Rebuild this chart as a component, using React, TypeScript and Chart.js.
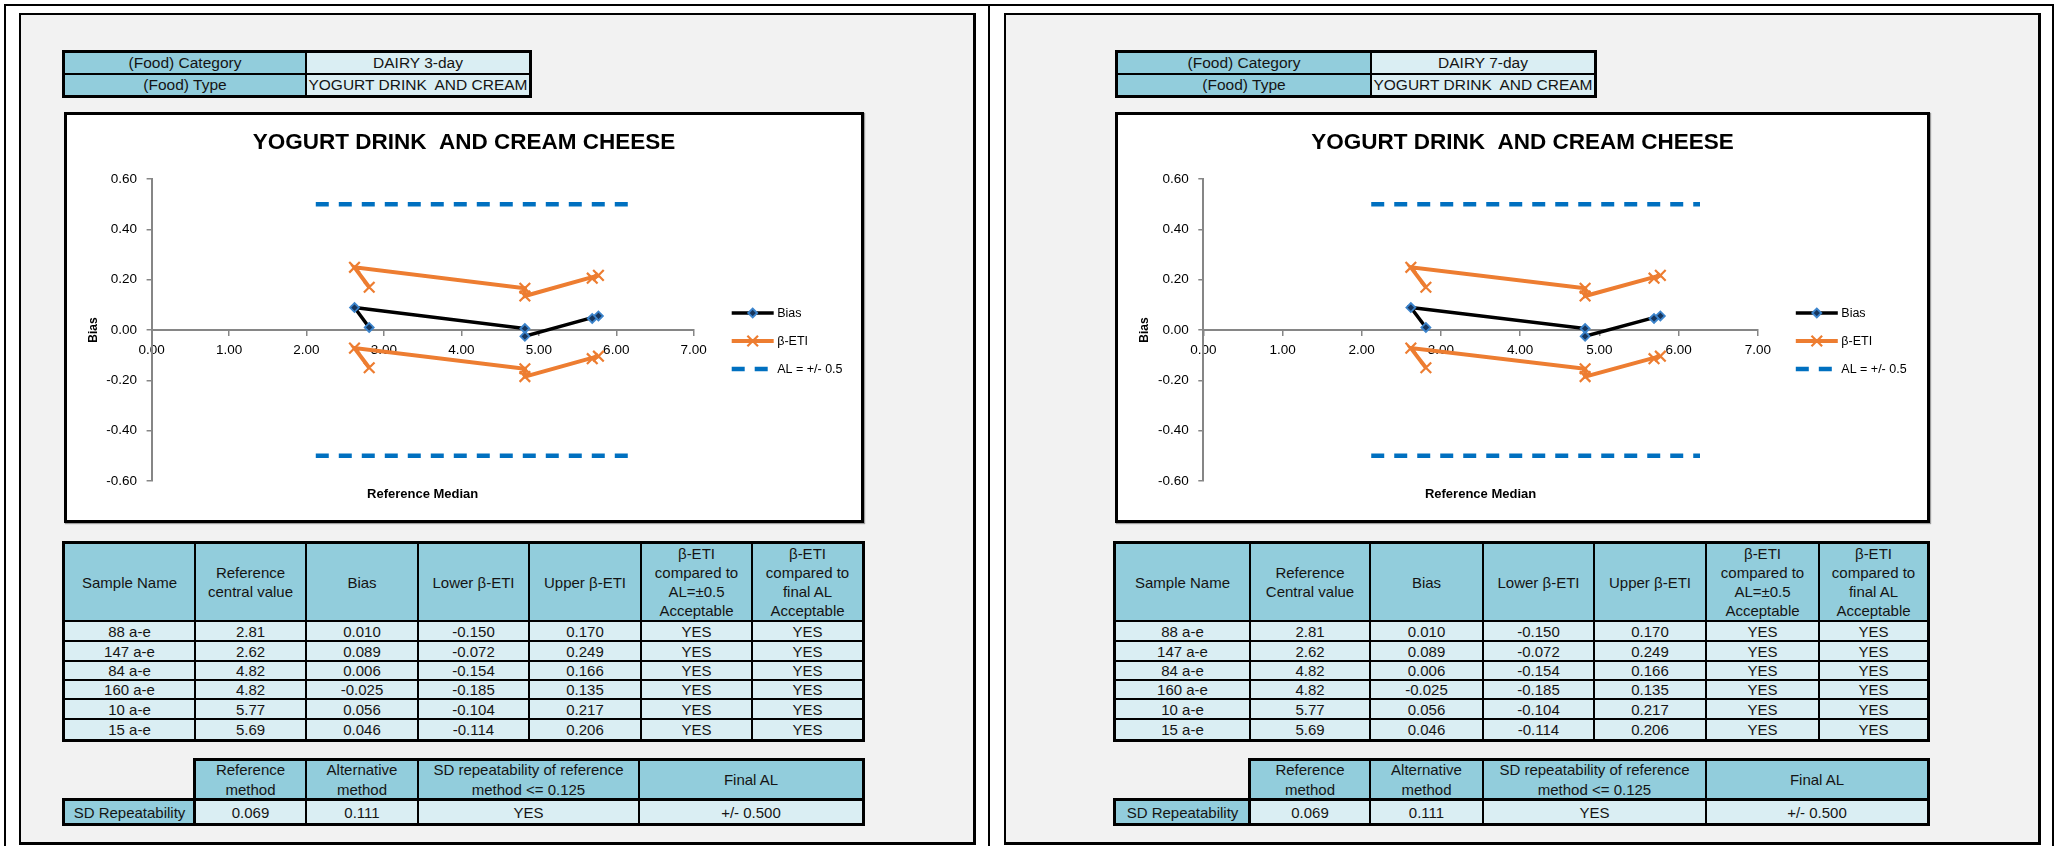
import React, { useEffect, useRef } from 'react';
import { Chart, registerables } from 'chart.js';

Chart.register(...registerables);

const FONT = '"Liberation Sans", Arial, Helvetica, sans-serif';
Chart.defaults.font.family = FONT;
Chart.defaults.color = '#000';

// ---------------- data ----------------
const sampleNames = ['88 a-e', '147 a-e', '84 a-e', '160 a-e', '10 a-e', '15 a-e'];
const referenceCentral = [2.81, 2.62, 4.82, 4.82, 5.77, 5.69];
const biasValues = [0.01, 0.089, 0.006, -0.025, 0.056, 0.046];
const lowerEti = [-0.15, -0.072, -0.154, -0.185, -0.104, -0.114];
const upperEti = [0.17, 0.249, 0.166, 0.135, 0.217, 0.206];
const acceptableAL05 = ['YES', 'YES', 'YES', 'YES', 'YES', 'YES'];
const acceptableFinalAL = ['YES', 'YES', 'YES', 'YES', 'YES', 'YES'];
const alRangeX = [2.12, 6.27];
const alUpperY = [0.5, 0.5];
const alLowerY = [-0.5, -0.5];
const xAxisRange = [0, 7];
const xAxisStep = 1;
const yAxisRange = [-0.6, 0.6];
const yAxisStep = 0.2;
const repeatabilityHeaders = ['Reference\nmethod', 'Alternative\nmethod', 'SD repeatability of reference\nmethod <= 0.125', 'Final AL'];
const repeatabilityValues = ['0.069', '0.111', 'YES', '+/- 0.500'];
const panelCategories = ['DAIRY 3-day', 'DAIRY 7-day'];
const panelTypes = ['YOGURT DRINK  AND CREAM', 'YOGURT DRINK  AND CREAM'];
const referenceHeaders = ['Reference\ncentral value', 'Reference\nCentral value'];
const chartTitle = 'YOGURT DRINK  AND CREAM CHEESE';
const legendLabels = ['Bias', 'β-ETI', 'AL = +/- 0.5'];

// ---------------- layout ----------------
const HEAD_BG = '#92CDDC';
const CELL_BG = '#DAEEF3';
const PANEL_BG = '#F2F2F2';

const LAYOUTS = [
  {
    frame: [19, 13, 976, 845],
    info: [64, 306, 530],
    chartBox: [64, 112, 864, 523],
    chart: { padSide: 19.8, yAxisWidth: 64.8, rightSpace: 147.5 },
    table: [64, 194.5, 306, 417.5, 529, 640.5, 752, 863],
    rep: [64, 194.5, 306, 417.5, 639, 863],
  },
  {
    frame: [1004, 13, 2041, 845],
    info: [1117, 1370.5, 1594.5],
    chartBox: [1115, 112, 1930, 523],
    chart: { padSide: 19.3, yAxisWidth: 66, rightSpace: 149.9 },
    table: [1115, 1250.3, 1369.8, 1482.8, 1593.9, 1706.2, 1818.6, 1928.3],
    rep: [1115, 1250.3, 1369.8, 1482.8, 1706.2, 1928.3],
  },
];
const infoYs = [52, 74, 96];
const tableYs = [543, 621, 641, 661, 680, 699, 719, 740];
const repYs = [760, 800, 824];

const pts = (xs: number[], ys: number[]) => xs.map((x, i) => ({ x, y: ys[i] }));

function drawMarker(ctx: CanvasRenderingContext2D, style: string, x: number, y: number, r: number, fill: string, stroke: string, lw: number) {
  ctx.save();
  ctx.setLineDash([]);
  ctx.lineWidth = lw;
  ctx.strokeStyle = stroke;
  ctx.fillStyle = fill;
  ctx.beginPath();
  if (style === 'rectRot') {
    ctx.moveTo(x - r, y);
    ctx.lineTo(x, y - r);
    ctx.lineTo(x + r, y);
    ctx.lineTo(x, y + r);
    ctx.closePath();
    ctx.fill();
    ctx.stroke();
  } else if (style === 'crossRot') {
    const d = r * Math.SQRT1_2;
    ctx.moveTo(x - d, y - d);
    ctx.lineTo(x + d, y + d);
    ctx.moveTo(x - d, y + d);
    ctx.lineTo(x + d, y - d);
    ctx.stroke();
  }
  ctx.restore();
}

const decorPlugin = {
  id: 'excelDecor',
  afterDraw(chart: any, _args: any, opts: any) {
    const { ctx, chartArea } = chart;
    ctx.save();
    ctx.fillStyle = '#000';
    ctx.textAlign = 'center';
    ctx.textBaseline = 'middle';
    ctx.font = `bold 13px ${FONT}`;
    ctx.fillText(opts.xTitle, (chartArea.left + chartArea.right) / 2, chartArea.bottom + 13);
    ctx.font = `12.5px ${FONT}`;
    ctx.textAlign = 'left';
    opts.items.forEach((it: any, i: number) => {
      const ds = chart.data.datasets[it.dataset];
      const y = chartArea.top + 134 + i * 28;
      const x0 = chartArea.right + 38;
      const x1 = x0 + 42;
      ctx.save();
      ctx.beginPath();
      ctx.setLineDash(ds.borderDash || []);
      ctx.lineWidth = ds.borderWidth;
      ctx.strokeStyle = ds.borderColor;
      ctx.lineCap = 'butt';
      ctx.moveTo(x0, y);
      ctx.lineTo(x1, y);
      ctx.stroke();
      ctx.restore();
      if (ds.pointRadius > 0) {
        drawMarker(ctx, ds.pointStyle, (x0 + x1) / 2, y, ds.pointRadius, ds.pointBackgroundColor, ds.pointBorderColor, ds.pointBorderWidth);
      }
      ctx.fillStyle = '#000';
      ctx.fillText(it.label, x1 + 3.5, y + 1);
    });
    ctx.restore();
  },
};

function BiasChart({ width, height, padSide, yAxisWidth, rightSpace }: any) {
  const ref = useRef<HTMLCanvasElement>(null);
  useEffect(() => {
    const canvas = ref.current;
    if (!canvas) return;
    const axisColor = '#868686';
    const chart = new Chart(canvas, {
      type: 'scatter',
      data: {
        datasets: [
          {
            label: legendLabels[0],
            data: pts(referenceCentral, biasValues),
            showLine: true,
            borderColor: '#000000',
            borderWidth: 3.5,
            pointStyle: 'rectRot',
            pointRadius: 4.5,
            pointBackgroundColor: '#17365D',
            pointBorderColor: '#3C84CC',
            pointBorderWidth: 1.8,
            tension: 0,
          },
          {
            label: legendLabels[1],
            data: pts(referenceCentral, upperEti),
            showLine: true,
            borderColor: '#ED7D31',
            borderWidth: 4,
            pointStyle: 'crossRot',
            pointRadius: 7.5,
            pointBackgroundColor: '#ED7D31',
            pointBorderColor: '#ED7D31',
            pointBorderWidth: 2.2,
            tension: 0,
          },
          {
            label: legendLabels[1] + ' lower',
            data: pts(referenceCentral, lowerEti),
            showLine: true,
            borderColor: '#ED7D31',
            borderWidth: 4,
            pointStyle: 'crossRot',
            pointRadius: 7.5,
            pointBackgroundColor: '#ED7D31',
            pointBorderColor: '#ED7D31',
            pointBorderWidth: 2.2,
            tension: 0,
          },
          {
            label: legendLabels[2],
            data: pts(alRangeX, alUpperY),
            showLine: true,
            borderColor: '#0070C0',
            borderWidth: 4.5,
            borderDash: [13, 10],
            pointRadius: 0,
            tension: 0,
          },
          {
            label: legendLabels[2] + ' lower',
            data: pts(alRangeX, alLowerY),
            showLine: true,
            borderColor: '#0070C0',
            borderWidth: 4.5,
            borderDash: [13, 10],
            pointRadius: 0,
            tension: 0,
          },
        ],
      },
      options: {
        animation: false,
        responsive: false,
        maintainAspectRatio: false,
        events: [],
        layout: { padding: { left: padSide, right: padSide, top: 0, bottom: 39 } },
        plugins: {
          legend: { display: false },
          tooltip: { enabled: false },
          title: {
            display: true,
            text: chartTitle,
            color: '#000',
            font: { size: 22.5, weight: 'bold', family: FONT },
            padding: { top: 14.5, bottom: 22.5 },
          },
          excelDecor: {
            xTitle: 'Reference Median',
            items: [
              { dataset: 0, label: legendLabels[0] },
              { dataset: 1, label: legendLabels[1] },
              { dataset: 3, label: legendLabels[2] },
            ],
          },
        } as any,
        scales: {
          x: {
            type: 'linear',
            min: xAxisRange[0],
            max: xAxisRange[1],
            position: { y: 0 } as any,
            afterFit: (s: any) => { s.height = 0; },
            grid: { drawOnChartArea: false, drawTicks: true, tickLength: 5, color: axisColor, lineWidth: 1.5 },
            border: { color: axisColor, width: 2 },
            ticks: {
              stepSize: xAxisStep,
              padding: 7,
              maxRotation: 0,
              autoSkip: false,
              color: '#000',
              font: { size: 13.5 },
              callback: (v: any) => Number(v).toFixed(2),
            },
          },
          y: {
            type: 'linear',
            min: yAxisRange[0],
            max: yAxisRange[1],
            position: 'left',
            afterFit: (s: any) => { s.width = yAxisWidth; },
            title: { display: true, text: 'Bias', color: '#000', font: { size: 12, weight: 'bold' }, padding: 0 },
            grid: { drawOnChartArea: false, drawTicks: true, tickLength: 5, color: axisColor, lineWidth: 1.5 },
            border: { color: axisColor, width: 2 },
            ticks: {
              stepSize: yAxisStep,
              padding: 9.6,
              color: '#000',
              font: { size: 13.5 },
              callback: (v: any) => {
                const n = Math.abs(Number(v)) < 1e-9 ? 0 : Number(v);
                return n.toFixed(2);
              },
            },
          },
          legendSpace: {
            type: 'linear',
            axis: 'y',
            position: 'right',
            display: true,
            afterFit: (s: any) => { s.width = rightSpace; },
            grid: { display: false },
            border: { display: false },
            ticks: { display: false },
          },
        } as any,
      },
      plugins: [decorPlugin as any],
    } as any);
    return () => chart.destroy();
  }, []);
  return <canvas ref={ref} width={width} height={height} style={{ display: 'block', width, height }} />;
}

function Cell({ x0, x1, y0, y1, bg, text, size = 15, lh = 19 }: any) {
  const L = Math.round(x0) - 1;
  const R = Math.round(x1) + 1;
  const T = Math.round(y0) - 1;
  const B = Math.round(y1) + 1;
  return (
    <div
      style={{
        position: 'absolute', left: L, top: T, width: R - L, height: B - T,
        boxSizing: 'border-box', border: '2px solid #000', background: bg,
        display: 'flex', alignItems: 'center', justifyContent: 'center', textAlign: 'center',
        whiteSpace: 'pre', fontSize: size, lineHeight: lh + 'px', color: '#141414',
        overflow: 'hidden', fontFamily: FONT,
      }}
    >
      {text}
    </div>
  );
}

function Frame({ x0, x1, y0, y1 }: any) {
  const L = Math.round(x0) - 2;
  const T = Math.round(y0) - 2;
  return (
    <div
      style={{
        position: 'absolute', left: L, top: T, width: Math.round(x1) + 2 - L, height: Math.round(y1) + 2 - T,
        boxSizing: 'border-box', border: '3px solid #000', pointerEvents: 'none',
      }}
    />
  );
}

function Panel({ idx }: { idx: number }) {
  const lay = LAYOUTS[idx];
  const [fx0, fy0, fx1, fy1] = lay.frame;
  const [bx0, by0, bx1, by1] = lay.chartBox;
  const tx = lay.table;
  const rx = lay.rep;
  const ix = lay.info;
  const tableHeaders = ['Sample Name', referenceHeaders[idx], 'Bias', 'Lower β-ETI', 'Upper β-ETI',
    'β-ETI\ncompared to\nAL=±0.5\nAcceptable', 'β-ETI\ncompared to\nfinal AL\nAcceptable'];
  const rows = sampleNames.map((n, i) => [
    n, referenceCentral[i].toFixed(2), biasValues[i].toFixed(3), lowerEti[i].toFixed(3),
    upperEti[i].toFixed(3), acceptableAL05[i], acceptableFinalAL[i],
  ]);
  const cells: any[] = [];
  // info table
  cells.push(<Cell key="i00" x0={ix[0]} x1={ix[1]} y0={infoYs[0]} y1={infoYs[1]} bg={HEAD_BG} text="(Food) Category" size={15.5} lh={18} />);
  cells.push(<Cell key="i01" x0={ix[1]} x1={ix[2]} y0={infoYs[0]} y1={infoYs[1]} bg={CELL_BG} text={panelCategories[idx]} size={15.5} lh={18} />);
  cells.push(<Cell key="i10" x0={ix[0]} x1={ix[1]} y0={infoYs[1]} y1={infoYs[2]} bg={HEAD_BG} text="(Food) Type" size={15.5} lh={18} />);
  cells.push(<Cell key="i11" x0={ix[1]} x1={ix[2]} y0={infoYs[1]} y1={infoYs[2]} bg={CELL_BG} text={panelTypes[idx]} size={15.5} lh={18} />);
  cells.push(<Frame key="if" x0={ix[0]} x1={ix[2]} y0={infoYs[0]} y1={infoYs[2]} />);
  // main table
  tableHeaders.forEach((h, c) => {
    cells.push(<Cell key={'h' + c} x0={tx[c]} x1={tx[c + 1]} y0={tableYs[0]} y1={tableYs[1]} bg={HEAD_BG} text={h} />);
  });
  rows.forEach((r, ri) => {
    r.forEach((v, c) => {
      cells.push(<Cell key={'r' + ri + '_' + c} x0={tx[c]} x1={tx[c + 1]} y0={tableYs[ri + 1]} y1={tableYs[ri + 2]} bg={CELL_BG} text={v} />);
    });
  });
  cells.push(<Frame key="tf" x0={tx[0]} x1={tx[7]} y0={tableYs[0]} y1={tableYs[7]} />);
  // repeatability table
  repeatabilityHeaders.forEach((h, c) => {
    cells.push(<Cell key={'rh' + c} x0={rx[c + 1]} x1={rx[c + 2]} y0={repYs[0]} y1={repYs[1]} bg={HEAD_BG} text={h} lh={20} />);
  });
  cells.push(<Cell key="rsd" x0={rx[0]} x1={rx[1]} y0={repYs[1]} y1={repYs[2]} bg={HEAD_BG} text="SD Repeatability" />);
  repeatabilityValues.forEach((v, c) => {
    cells.push(<Cell key={'rv' + c} x0={rx[c + 1]} x1={rx[c + 2]} y0={repYs[1]} y1={repYs[2]} bg={CELL_BG} text={v} />);
  });
  cells.push(<Frame key="rf1" x0={rx[1]} x1={rx[5]} y0={repYs[0]} y1={repYs[2]} />);
  cells.push(<Frame key="rf2" x0={rx[0]} x1={rx[5]} y0={repYs[1]} y1={repYs[2]} />);

  const boxW = bx1 - bx0;
  const boxH = by1 - by0;
  return (
    <>
      <div
        style={{
          position: 'absolute', left: fx0, top: fy0, width: fx1 - fx0, height: fy1 - fy0,
          boxSizing: 'border-box', background: PANEL_BG,
          borderTop: '2px solid #000', borderLeft: '2px solid #000',
          borderRight: '3px solid #000', borderBottom: '3px solid #000',
        }}
      />
      <div
        style={{
          position: 'absolute', left: bx0, top: by0, width: boxW, height: boxH,
          boxSizing: 'border-box', border: '3px solid #000', background: '#fff',
          boxShadow: '1px 1px 1px rgba(0,0,0,0.35)',
        }}
      >
        <BiasChart width={boxW - 6} height={boxH - 6} {...lay.chart} />
      </div>
      {cells}
    </>
  );
}

export default function App() {
  return (
    <div style={{ position: 'absolute', left: 0, top: 0, width: 2060, height: 846, background: '#fff', overflow: 'hidden', fontFamily: FONT }}>
      <div style={{ position: 'absolute', left: 4, top: 4, width: 2050, height: 2, background: '#000' }} />
      <div style={{ position: 'absolute', left: 4, top: 4, width: 2, height: 842, background: '#000' }} />
      <div style={{ position: 'absolute', left: 2052, top: 4, width: 2, height: 842, background: '#000' }} />
      <div style={{ position: 'absolute', left: 988, top: 4, width: 2, height: 842, background: '#000' }} />
      <Panel idx={0} />
      <Panel idx={1} />
    </div>
  );
}
